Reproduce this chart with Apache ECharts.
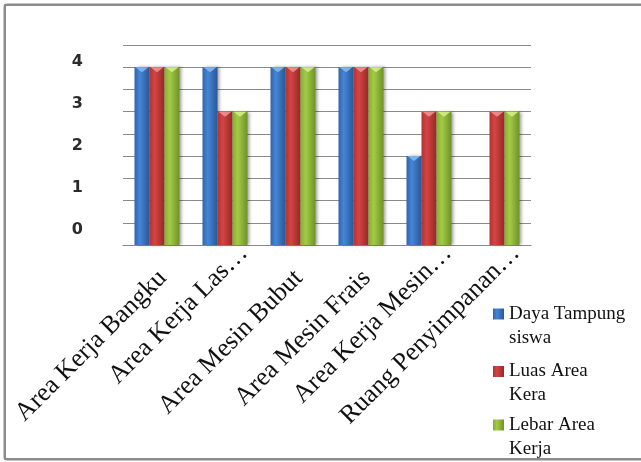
<!DOCTYPE html>
<html>
<head>
<meta charset="utf-8">
<script src="https://cdn.jsdelivr.net/npm/echarts@6/dist/echarts.min.js"></script>
<style>
html,body{margin:0;padding:0;background:#fff;overflow:hidden;}
#chart{width:641px;height:462px;}
</style>
</head>
<body>
<div id="chart"></div>
<script>
const categories = ['Area Kerja Bangku', 'Area Kerja Las…', 'Area Mesin Bubut', 'Area Mesin Frais', 'Area Kerja Mesin…', 'Ruang Penyimpanan…'];
const seriesNames = ['Daya Tampung siswa', 'Luas Area Kera', 'Lebar Area Kerja'];
const legendLabels = ['Daya Tampung\nsiswa', 'Luas Area\nKera', 'Lebar Area\nKerja'];
const dayaTampung = [4, 4, 4, 4, 2, 0];
const luasArea = [4, 3, 4, 4, 3, 3];
const lebarArea = [4, 3, 4, 4, 3, 3];
const yTickLabels = ['0', '1', '2', '3', '4'];

function grad(c0, c1, c2) {
  return {type: 'linear', x: 0, y: 0, x2: 1, y2: 0,
    colorStops: [{offset: 0, color: c0}, {offset: 0.35, color: c1}, {offset: 1, color: c2}]};
}
const colors = [
  grad('#2f64ab', '#4686d6', '#275896'),
  grad('#b03232', '#d44545', '#962828'),
  grad('#86ad34', '#a3cb45', '#6f9128')
];
const tipColors = ['#86b8f0', '#f09090', '#d2ee85'];
const values = [dayaTampung, luasArea, lebarArea];
const BAR_W = 15;

const chart = echarts.init(document.getElementById('chart'), null, {renderer: 'canvas'});

const series = seriesNames.map((name, i) => ({
  name: name,
  type: 'bar',
  xAxisIndex: 0,
  yAxisIndex: 0,
  data: values[i],
  barWidth: BAR_W,
  barGap: '0%',
  itemStyle: {
    color: colors[i],
    shadowColor: 'rgba(0,0,0,0.35)',
    shadowBlur: 3,
    shadowOffsetX: 2
  },
  emphasis: {disabled: true}
}));

// light triangular caps on top of each bar
seriesNames.forEach((name, i) => {
  series.push({
    type: 'custom',
    xAxisIndex: 0,
    yAxisIndex: 0,
    silent: true,
    z: 3,
    data: values[i].map((v, k) => [k, v]),
    renderItem: (params, api) => {
      const v = api.value(1);
      if (!v) return null;
      const p = api.coord([api.value(0), v]);
      const cx = p[0] + (i - 1) * BAR_W;
      const half = BAR_W / 2 - 1;
      return {
        type: 'polygon',
        shape: {points: [[cx - half, p[1]], [cx + half, p[1]], [cx, p[1] + 5]]},
        style: {fill: tipColors[i], opacity: 0.9}
      };
    }
  });
});

const legendTops = [278, 335.5, 389];
const legends = seriesNames.map((name, i) => ({
  data: [name],
  orient: 'vertical',
  left: 493,
  top: legendTops[i],
  padding: 0,
  itemWidth: 11,
  itemHeight: 11,
  icon: 'rect',
  selectedMode: false,
  formatter: () => '\u00a0\n' + legendLabels[i],
  textStyle: {
    fontFamily: 'Liberation Serif',
    fontSize: 19,
    lineHeight: 24,
    color: '#111'
  }
}));

const labelFont = {fontFamily: 'Liberation Serif', fontSize: 26, color: '#111'};

chart.setOption({
  animation: false,
  backgroundColor: '#fff',
  color: colors,
  graphic: [{
    type: 'rect',
    shape: {x: 4.75, y: 4.75, width: 720, height: 454.5, r: 2},
    style: {fill: 'none', stroke: '#8c8c8c', lineWidth: 2.5},
    silent: true
  }],
  legend: legends,
  grid: [
    {left: 123, top: 45, width: 408, height: 200, containLabel: false},
    {left: 141.8, top: 61.7, width: 408, height: 168.3, containLabel: false}
  ],
  xAxis: [
    {
      type: 'category', gridIndex: 0, data: categories,
      axisLine: {show: true, lineStyle: {color: '#8a8a8a', width: 1.2}},
      axisTick: {show: false},
      axisLabel: {show: false}
    },
    {
      type: 'category', gridIndex: 1, data: categories,
      axisLine: {show: false},
      axisTick: {show: false},
      splitLine: {show: false},
      axisLabel: {
        show: true, interval: 0, rotate: 45, margin: 19.2,
        fontFamily: 'Liberation Serif', fontSize: 26, color: '#111',
        formatter: v => v.endsWith('…') ? '{t|' + v + '}' : '{n|' + v + '}',
        rich: {
          t: Object.assign({}, labelFont),
          n: Object.assign({padding: [17, 27, 0, 0]}, labelFont)
        }
      }
    }
  ],
  yAxis: [
    {
      type: 'value', gridIndex: 0, min: 0, max: 4.5, interval: 0.5,
      axisLine: {show: false},
      axisTick: {show: false},
      axisLabel: {show: false},
      splitLine: {show: true, lineStyle: {color: '#8a8a8a', width: 1.2}}
    },
    {
      type: 'value', gridIndex: 1, min: 0, max: 4, interval: 1,
      axisLine: {show: false},
      axisTick: {show: false},
      splitLine: {show: false},
      axisLabel: {
        show: true, margin: 58.8,
        fontFamily: 'DejaVu Sans', fontWeight: 'bold', fontSize: 16, color: '#2b2b2b',
        formatter: v => yTickLabels[v] !== undefined ? yTickLabels[v] : ''
      }
    }
  ],
  series: series
});
</script>
</body>
</html>
